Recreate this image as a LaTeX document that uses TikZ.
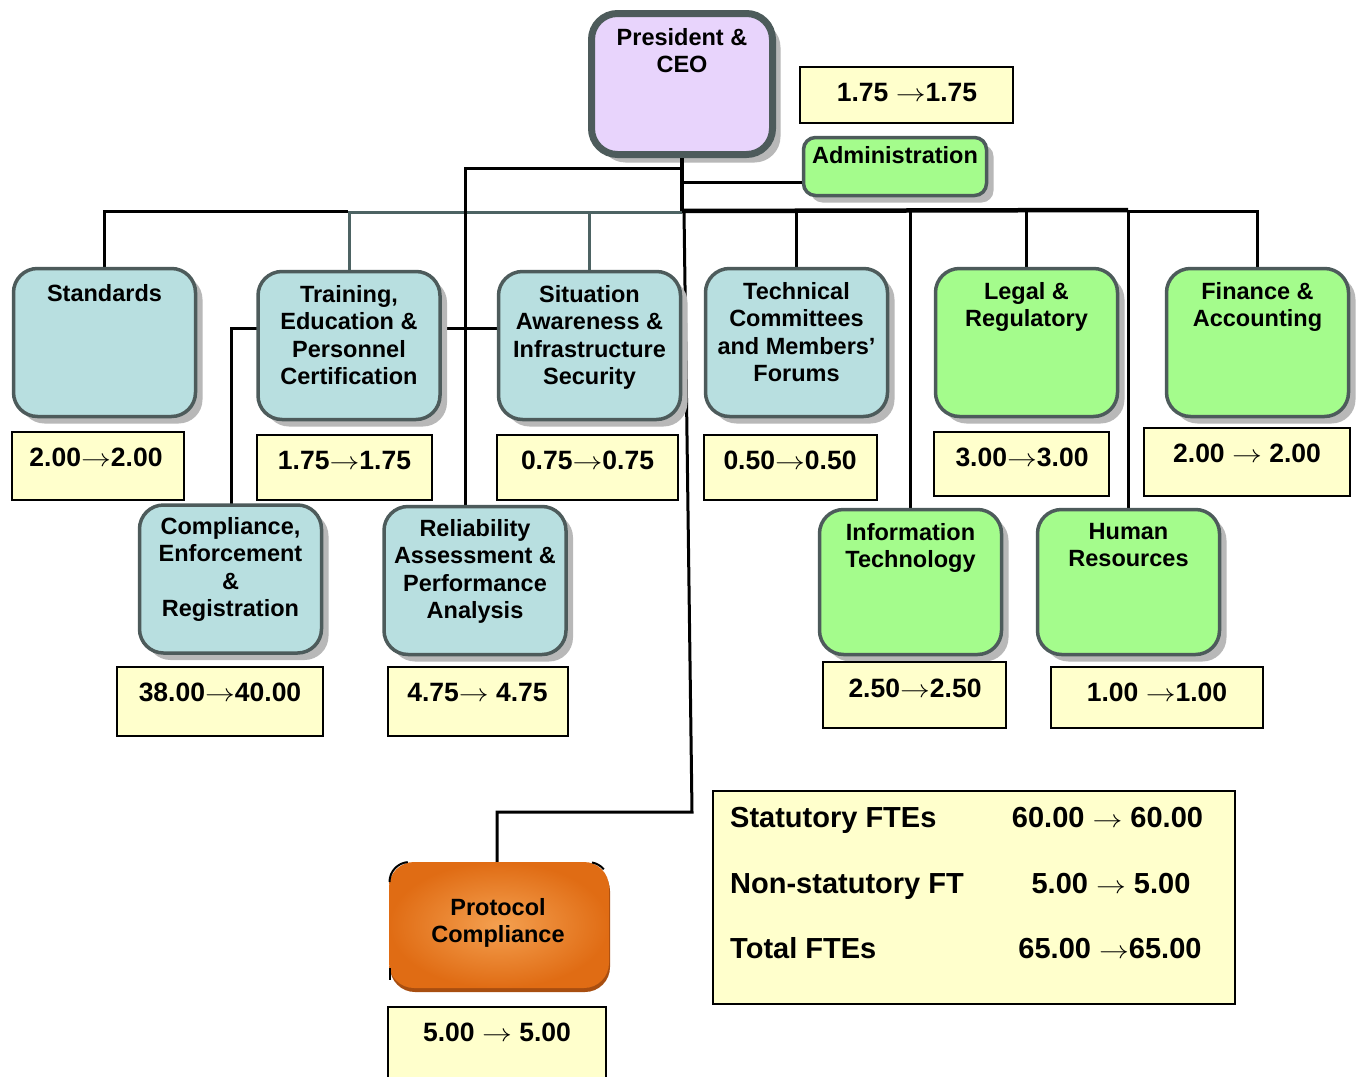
\documentclass[tikz,border=0pt]{standalone}
\usepackage{fontspec}
\setmainfont{Liberation Sans}
\usetikzlibrary{shadows}
\definecolor{bluefill}{HTML}{B8DFE0}
\definecolor{greenfill}{HTML}{A4FC8C}
\definecolor{ceofill}{HTML}{E8D4FC}
\definecolor{ftefill}{HTML}{FFFFCC}
\definecolor{edgecol}{HTML}{4D5B5B}
\definecolor{greyline}{HTML}{4D6363}
\definecolor{orin}{HTML}{F4A050}
\definecolor{orout}{HTML}{E06C14}
\definecolor{ordark}{HTML}{A84E10}
\newcommand{\ar}{\scalebox{1.2}[1]{\ensuremath{\rightarrow}}}
\tikzset{
  dept/.style={draw=edgecol, line width=3.5pt, rounded corners=24pt, inner sep=0pt,
    minimum width=182pt, minimum height=148pt,
    drop shadow={shadow xshift=7pt, shadow yshift=-7pt, fill=black!28, opacity=1}},
  bluebox/.style={dept, fill=bluefill},
  greenbox/.style={dept, fill=greenfill},
  lbl/.style={font=\fontsize{23.5}{27.5}\selectfont\bfseries, align=center, inner sep=0pt, anchor=north},
  ftebox/.style={draw=black, line width=1.8pt, fill=ftefill, inner sep=0pt},
  ftetxt/.style={font=\fontsize{26.5}{30}\selectfont\bfseries, inner sep=0pt, anchor=north},
  sumtxt/.style={font=\fontsize{29}{34}\selectfont\bfseries, inner sep=0pt},
  link/.style={line width=3pt, black},
  glink/.style={line width=3pt, greyline},
  thicklink/.style={line width=4.5pt, black},
  cornermark/.style={line width=2pt, black}
}
\begin{document}
\begin{tikzpicture}[x=1pt, y=-1pt]
\useasboundingbox (0,0) rectangle (1362,1076);
\fill[white] (0,0) rectangle (1362,1076);

% node boxes
\node[draw=edgecol, line width=7pt, rounded corners=26pt, fill=ceofill, minimum width=181pt, minimum height=141pt,
  drop shadow={shadow xshift=8pt, shadow yshift=-8pt, fill=black!28, opacity=1}] (ceo) at (682,84) {};
\node[draw=edgecol, line width=3.5pt, rounded corners=12pt, fill=greenfill, minimum width=183pt, minimum height=58pt, inner sep=0pt,
  drop shadow={shadow xshift=7pt, shadow yshift=-7pt, fill=black!28, opacity=1}] (adm) at (895,166.5) {};

\coordinate (hub) at (682,211);

% connectors
\draw[thicklink] (ceo.south) -- (hub);
\draw[thicklink] (hub) -- (1128,210);
\draw[link] (1128,211) -| (1257.5,268);
\draw[link] (796.5,211) -- (796.5,268);
\draw[link] (1026.5,211) -- (1026.5,268);
\draw[link] (910.5,210) -- (910.5,509);
\draw[link] (1128,210) -- (1128,509);
\draw[link] (104.5,268) |- (348,211);
\draw[glink] (348,212) -- (682,212);
\draw[glink] (349,212) -- (349,271);
\draw[glink] (589.5,212) -- (589.5,271);
\draw[link] (682,182) -- (adm.west |- 0,182);
\draw[link] (682,168) -- (465,168) -- (465,506);
\draw[link] (258,328) -| (231,504);
\draw[link] (440,328) -- (498,328);
\draw[link] (684,211) -- (692,812) -- (497,812) -- (497,863);

% department boxes
\node[bluebox] (std) at (104.5,342.5) {};
\node[bluebox] (tr) at (349,345.5) {};
\node[bluebox] (sit) at (589.5,345.5) {};
\node[bluebox] (tech) at (796.5,342.5) {};
\node[greenbox] (leg) at (1026.5,342.5) {};
\node[greenbox] (fin) at (1257.5,342.5) {};
\node[bluebox] (comp) at (230.5,579) {};
\node[bluebox] (rel) at (475,580.5) {};
\node[greenbox, minimum height=145pt] (it) at (910.5,582) {};
\node[greenbox, minimum height=145pt] (hr) at (1128.5,582) {};

% protocol compliance
\node[rounded corners=25pt, minimum width=220pt, minimum height=126pt, inner sep=0pt,
  inner color=orin, outer color=orout,
  drop shadow={shadow xshift=1pt, shadow yshift=-4pt, fill=ordark, opacity=1}] (prot) at (499,925) {};
\draw[cornermark] (389.5,882) arc[start angle=180, end angle=95, radius=20pt];
\draw[cornermark] (592,862.5) arc[start angle=80, end angle=40, radius=20pt];
\draw[cornermark] (389.5,968) -- (389.5,980);

% labels
\node[lbl] (ceoT) at (682,28) {President \&\\CEO};
\node[lbl] (admT) at (895,146) {Administration};
\node[lbl] (stdT) at (104.5,284) {Standards};
\node[lbl] (trT) at (349,285) {Training,\\Education \&\\Personnel\\Certification};
\node[lbl] (sitT) at (589.5,285) {Situation\\Awareness \&\\Infrastructure\\Security};
\node[lbl] (techT) at (796.5,282) {Technical\\Committees\\and Members’\\Forums};
\node[lbl] (legT) at (1026.5,282) {Legal \&\\Regulatory};
\node[lbl] (finT) at (1257.5,282) {Finance \&\\Accounting};
\node[lbl] (compT) at (230.5,517) {Compliance,\\Enforcement\\\&\\Registration};
\node[lbl] (relT) at (475,519) {Reliability\\Assessment \&\\Performance\\Analysis};
\node[lbl] (itT) at (910.5,523) {Information\\Technology};
\node[lbl] (hrT) at (1128.5,523) {Human\\Resources};
\node[lbl, anchor=center] (protT) at (498,923) {Protocol\\Compliance};

% FTE boxes
\node[ftebox, minimum width=213pt, minimum height=56pt] (ceoF) at (906.5,95) {};
\node[ftebox, minimum width=172pt, minimum height=68pt] (stdF) at (98,466) {};
\node[ftebox, minimum width=175pt, minimum height=65pt] (trF) at (344.5,467.5) {};
\node[ftebox, minimum width=181pt, minimum height=65pt] (sitF) at (587.5,467.5) {};
\node[ftebox, minimum width=173pt, minimum height=65pt] (techF) at (790.5,467.5) {};
\node[ftebox, minimum width=175pt, minimum height=64pt] (legF) at (1021.5,464) {};
\node[ftebox, minimum width=206pt, minimum height=68pt] (finF) at (1247,462) {};
\node[ftebox, minimum width=206pt, minimum height=69pt] (compF) at (220,701.5) {};
\node[ftebox, minimum width=180pt, minimum height=69pt] (relF) at (478,701.5) {};
\node[ftebox, minimum width=183pt, minimum height=66pt] (itF) at (914.5,695) {};
\node[ftebox, minimum width=212pt, minimum height=61pt] (hrF) at (1157,697.5) {};
\node[ftebox, minimum width=218pt, minimum height=90pt] (protF) at (497,1052) {};
\node[ftebox, minimum width=522pt, minimum height=213pt] (sumF) at (974,897.5) {};

\node[ftetxt] (ceoV) at (907,83) {1.75 \ar1.75};
\node[ftetxt] (stdV) at (96,448) {2.00\ar2.00};
\node[ftetxt] (trV) at (344.5,451) {1.75\ar1.75};
\node[ftetxt] (sitV) at (587.5,451) {0.75\ar0.75};
\node[ftetxt] (techV) at (790,451) {0.50\ar0.50};
\node[ftetxt] (legV) at (1022,448) {3.00\ar3.00};
\node[ftetxt] (finV) at (1247,444) {2.00 \ar{} 2.00};
\node[ftetxt] (compV) at (220,683) {38.00\ar40.00};
\node[ftetxt] (relV) at (477.5,683) {4.75\ar{} 4.75};
\node[ftetxt] (itV) at (915,679) {2.50\ar2.50};
\node[ftetxt] (hrV) at (1157,683) {1.00 \ar1.00};
\node[ftetxt] (protV) at (497,1023) {5.00 \ar{} 5.00};

% summary
\node[sumtxt, anchor=base west] (s1) at (730,827) {Statutory FTEs};
\node[sumtxt, anchor=base west] (s2) at (730,893) {Non-statutory FT};
\node[sumtxt, anchor=base west] (s3) at (730,958) {Total FTEs};
\node[sumtxt, anchor=base] (v1) at (1107.5,827) {60.00 \ar{} 60.00};
\node[sumtxt, anchor=base] (v2) at (1111,893) {5.00 \ar{} 5.00};
\node[sumtxt, anchor=base] (v3) at (1110,958) {65.00 \ar65.00};
\end{tikzpicture}
\end{document}
